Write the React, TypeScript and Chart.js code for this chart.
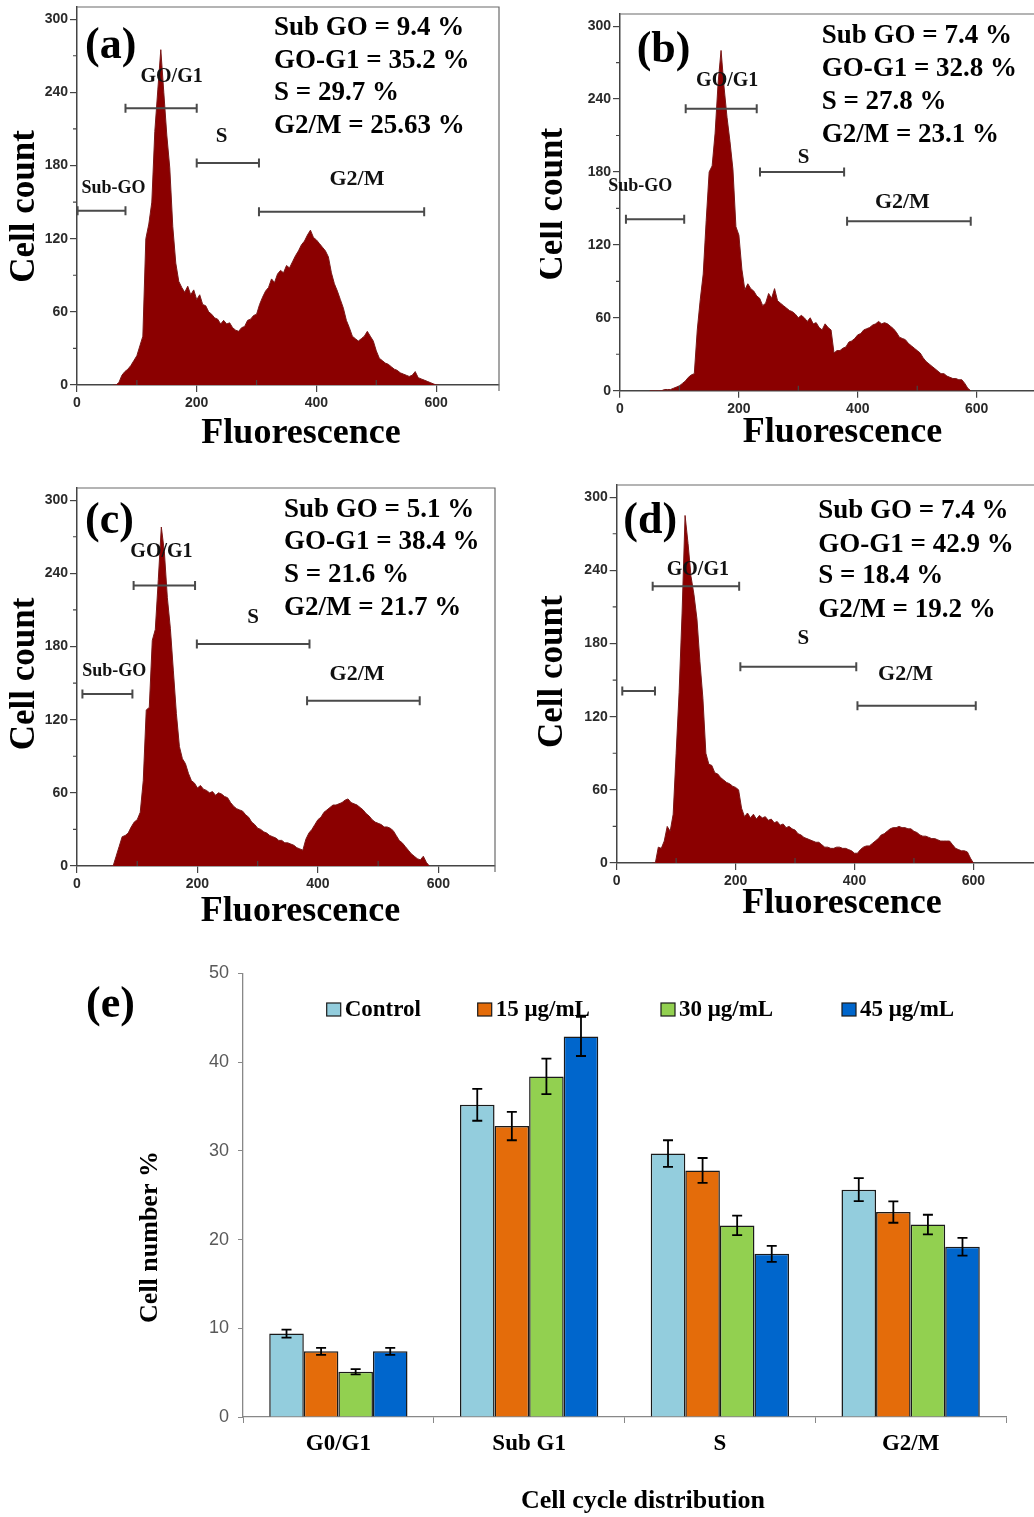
import React, { useEffect, useRef } from 'react';
import { Chart, registerables } from 'chart.js';

Chart.register(...registerables);

// ---------------- DATA ----------------
const BIN_WIDTH = 5;

// Panel (a)
const A_FIRST_BIN = 60;
const A_COUNTS = [
  0, 0, 2, 8, 11, 13, 16, 20, 24, 32,
  40, 120, 132, 150, 208, 242, 275, 240, 205, 178,
  130, 100, 85, 80, 76, 81, 74, 78, 70, 74,
  66, 65, 60, 58, 55, 54, 50, 53, 50, 51,
  47, 45, 44, 47, 48, 53, 54, 57, 58, 66,
  72, 77, 80, 87, 84, 91, 94, 92, 98, 96,
  101, 106, 110, 115, 118, 123, 127, 121, 119, 116,
  113, 110, 105, 92, 83, 77, 70, 63, 53, 47,
  40, 38, 36, 38, 40, 44, 40, 36, 28, 22,
  20, 18, 17, 15, 13, 12, 10, 9, 8, 7,
  8, 11, 6, 5, 4, 3, 2, 1, 0, 0,
];
const A_STATS = ['Sub GO = 9.4 %', 'GO-G1 = 35.2 %', 'S = 29.7 %', 'G2/M = 25.63 %'];
const A_GATES = [[1, 81, 143], [81, 200, 227], [200, 304, 182], [304, 580, 142]];
const A_GATE_LABELS: [string, number, number][] = [['Sub-GO', 61, 161], ['GO/G1', 158, 252.5], ['S', 241.5, 203.4], ['G2/M', 467.7, 169]];

// Panel (b)
const B_FIRST_BIN = 50;
const B_COUNTS = [
  0, 0, 0, 0, 0, 1, 1, 1, 2, 3,
  4, 6, 8, 11, 13, 14, 50, 75, 96, 140,
  180, 185, 212, 253, 280, 250, 225, 205, 182, 135,
  128, 100, 83, 88, 84, 82, 78, 76, 70, 72,
  80, 76, 84, 74, 72, 70, 68, 66, 65, 63,
  60, 62, 60, 57, 60, 55, 56, 52, 50, 55,
  52, 50, 31, 33, 33, 35, 36, 40, 41, 43,
  46, 47, 50, 51, 52, 54, 55, 57, 55, 56,
  55, 53, 51, 48, 44, 43, 42, 39, 37, 35,
  33, 31, 27, 24, 22, 20, 18, 16, 14, 14,
  12, 11, 10, 10, 9, 9, 6, 2, 0,
];
const B_STATS = ['Sub GO = 7.4 %', 'GO-G1 = 32.8 %', 'S = 27.8 %', 'G2/M = 23.1 %'];
const B_GATES = [[10, 108, 141], [110.5, 230, 232], [235.5, 377, 180], [382, 590, 139.5]];
const B_GATE_LABELS: [string, number, number][] = [['Sub-GO', 34, 167.8], ['GO/G1', 180.3, 255], ['S', 308.7, 192.2], ['G2/M', 475, 154.8]];

// Panel (c)
const C_FIRST_BIN = 55;
const C_COUNTS = [
  0, 0, 8, 16, 24, 25, 27, 32, 36, 38,
  44, 70, 128, 130, 185, 194, 235, 278, 258, 220,
  195, 160, 125, 98, 88, 84, 76, 70, 68, 64,
  66, 63, 62, 60, 61, 58, 60, 59, 57, 56,
  52, 49, 47, 46, 45, 42, 40, 36, 34, 31,
  30, 28, 27, 25, 24, 23, 21, 21, 19, 19,
  18, 17, 15, 14, 13, 22, 27, 30, 34, 38,
  40, 44, 46, 48, 50, 50, 51, 52, 54, 55,
  52, 51, 50, 48, 46, 43, 41, 38, 36, 35,
  34, 32, 32, 31, 29, 25, 21, 19, 16, 13,
  10, 8, 6, 5, 8, 3, 0,
];
const C_STATS = ['Sub GO = 5.1 %', 'GO-G1 = 38.4 %', 'S = 21.6 %', 'G2/M = 21.7 %'];
const C_GATES = [[9, 92, 141], [94, 196, 230], [199, 386, 182], [382, 569, 135.5]];
const C_GATE_LABELS: [string, number, number][] = [['Sub-GO', 61.8, 159.7], ['GO/G1', 140.2, 258], ['S', 292.5, 203.4], ['G2/M', 465, 157]];

// Panel (d)
const D_FIRST_BIN = 60;
const D_COUNTS = [
  0, 0, 13, 12, 18, 30, 26, 40, 90, 140,
  205, 285, 262, 235, 220, 200, 165, 135, 90, 81,
  80, 74, 73, 70, 68, 66, 65, 63, 62, 60,
  45, 38, 41, 37, 40, 36, 39, 37, 38, 35,
  36, 33, 34, 31, 32, 29, 30, 28, 27, 24,
  23, 21, 20, 19, 18, 17, 17, 15, 13, 13,
  12, 12, 13, 13, 12, 12, 11, 10, 8, 8,
  11, 13, 14, 14, 16, 18, 20, 23, 24, 26,
  28, 29, 29, 30, 29, 29, 28, 28, 26, 25,
  23, 22, 22, 21, 20, 20, 19, 18, 18, 18,
  18, 15, 12, 11, 10, 10, 9, 4, 0,
];
const D_STATS = ['Sub GO = 7.4 %', 'GO-G1 = 42.9 %', 'S = 18.4 %', 'G2/M = 19.2 %'];
const D_GATES = [[9.4, 64.4, 141], [60.5, 206, 227], [208, 403, 161], [405, 604, 129]];
const D_GATE_LABELS: [string, number, number][] = [['GO/G1', 136.5, 240.8], ['S', 314, 183.8], ['G2/M', 485.9, 154.6]];

// Histogram axes
const HIST_Y_MAX = 310;
const HIST_Y_STEP = 60;
const HIST_X_STEP = 200;
const HIST_X_MINOR = [100, 300, 500];
const HIST_Y_MINOR = [30, 90, 150, 210, 270];

// Panel (e)
const CATEGORIES = ['G0/G1', 'Sub G1', 'S', 'G2/M'];
const SERIES_NAMES = ['Control', '15 μg/mL', '30 μg/mL', '45 μg/mL'];
const CONTROL = [9.4, 35.2, 29.7, 25.63];
const DOSE_15 = [7.4, 32.8, 27.8, 23.1];
const DOSE_30 = [5.1, 38.4, 21.6, 21.7];
const DOSE_45 = [7.4, 42.9, 18.4, 19.2];
const ERR_CONTROL = [0.45, 1.8, 1.5, 1.3];
const ERR_15 = [0.4, 1.6, 1.4, 1.2];
const ERR_30 = [0.3, 2.0, 1.1, 1.1];
const ERR_45 = [0.4, 2.2, 0.9, 1.0];
const Y_TICKS_E = [0, 10, 20, 30, 40, 50];

// ---------------- STYLE / LAYOUT ----------------
const SERIF = '"Liberation Serif", "Times New Roman", serif';
const SANS = '"Liberation Sans", Arial, sans-serif';
const HIST_FILL = '#8B0000';
const BAR_COLORS = ['#93CDDD', '#E46C0A', '#92D050', '#0066CC'];
const GATE_LABEL_SIZE: Record<string, number> = { 'Sub-GO': 18, 'GO/G1': 20, S: 21, 'G2/M': 22 };

type Layout = {
  left: number; top: number; width: number; height: number;
  yWidth: number; xHeight: number; padTop: number; padRight: number; xMax: number;
  tag: [number, number]; statsX: number; statsY: number[];
  yTitle: [number, number]; xTitle: [number, number];
};

const LAYOUT_A: Layout = {
  left: 0, top: -13, width: 510, height: 480, yWidth: 77, xHeight: 82, padTop: 20, padRight: 11, xMax: 705,
  tag: [85, 58], statsX: 274, statsY: [35, 67.5, 100, 132.5], yTitle: [25, 206.5], xTitle: [301, 433.5],
};
const LAYOUT_B: Layout = {
  left: 540, top: -6, width: 510, height: 480, yWidth: 80, xHeight: 83.3, padTop: 20, padRight: 10.9, xMax: 705,
  tag: [636.7, 61.7], statsX: 821.7, statsY: [42.7, 75.7, 108.7, 141.7], yTitle: [553.3, 204.2], xTitle: [842.5, 433],
};
const LAYOUT_C: Layout = {
  left: 0, top: 468, width: 510, height: 480, yWidth: 77, xHeight: 82, padTop: 20, padRight: 15, xMax: 694,
  tag: [85, 533.3], statsX: 284, statsY: [516.7, 549.3, 582.3, 615], yTitle: [25, 674], xTitle: [300.5, 912],
};
const LAYOUT_D: Layout = {
  left: 537, top: 465, width: 510, height: 480, yWidth: 79.7, xHeight: 82, padTop: 20, padRight: 11.2, xMax: 705,
  tag: [623.3, 533.3], statsX: 818.3, statsY: [518.3, 551.7, 583.3, 616.7], yTitle: [553.3, 671.7], xTitle: [842, 903.3],
};

type HistProps = {
  tag: string; firstBin: number; counts: number[]; stats: string[];
  gates: number[][]; gateLabels: [string, number, number][]; layout: Layout;
};

function HistPanel({ tag, firstBin, counts, stats, gates, gateLabels, layout }: HistProps) {
  const ref = useRef<HTMLCanvasElement>(null);
  useEffect(() => {
    const canvas = ref.current;
    if (!canvas) return;
    const L = layout;
    const points = counts.map((c, i) => ({ x: firstBin + i * BIN_WIDTH, y: c }));
    const overlay = {
      id: 'histOverlay',
      afterDatasetsDraw(chart: any) {
        const ctx = chart.ctx as CanvasRenderingContext2D;
        const ca = chart.chartArea;
        const xs = chart.scales.x;
        const ys = chart.scales.y;
        ctx.save();
        // frame (top & right)
        ctx.strokeStyle = '#6a6a6a';
        ctx.lineWidth = 1.2;
        ctx.beginPath();
        ctx.moveTo(ca.left, ca.top);
        ctx.lineTo(ca.right, ca.top);
        ctx.lineTo(ca.right, ca.bottom + 6);
        ctx.stroke();
        // minor ticks
        ctx.strokeStyle = '#444';
        ctx.lineWidth = 1.2;
        ctx.beginPath();
        HIST_X_MINOR.forEach((v) => {
          const px = xs.getPixelForValue(v);
          ctx.moveTo(px, ca.bottom);
          ctx.lineTo(px, ca.bottom - 5);
        });
        HIST_Y_MINOR.forEach((v) => {
          const py = ys.getPixelForValue(v);
          ctx.moveTo(ca.left, py);
          ctx.lineTo(ca.left - 4, py);
        });
        ctx.stroke();
        // gates
        ctx.strokeStyle = '#4a4a4a';
        ctx.lineWidth = 2;
        gates.forEach(([x1, x2, y]) => {
          const p1 = xs.getPixelForValue(x1);
          const p2 = xs.getPixelForValue(x2);
          const py = ys.getPixelForValue(y);
          ctx.beginPath();
          ctx.moveTo(p1, py); ctx.lineTo(p2, py);
          ctx.moveTo(p1, py - 4.5); ctx.lineTo(p1, py + 4.5);
          ctx.moveTo(p2, py - 4.5); ctx.lineTo(p2, py + 4.5);
          ctx.stroke();
        });
        // gate labels
        ctx.fillStyle = '#111';
        ctx.textAlign = 'center';
        ctx.textBaseline = 'middle';
        gateLabels.forEach(([t, x, y]) => {
          ctx.font = `bold ${GATE_LABEL_SIZE[t]}px ${SERIF}`;
          ctx.fillText(t, xs.getPixelForValue(x), ys.getPixelForValue(y));
        });
        // panel texts (page coordinates)
        const ox = L.left;
        const oy = L.top;
        ctx.fillStyle = '#000';
        ctx.textAlign = 'left';
        ctx.textBaseline = 'alphabetic';
        ctx.font = `bold 44px ${SERIF}`;
        ctx.fillText(tag, L.tag[0] - ox, L.tag[1] - oy);
        ctx.font = `bold 27px ${SERIF}`;
        stats.forEach((s, i) => ctx.fillText(s, L.statsX - ox, L.statsY[i] - oy));
        ctx.textAlign = 'center';
        ctx.textBaseline = 'middle';
        ctx.font = `bold 36px ${SERIF}`;
        ctx.fillText('Fluorescence', L.xTitle[0] - ox, L.xTitle[1] - oy);
        ctx.font = `bold 35px ${SERIF}`;
        ctx.translate(L.yTitle[0] - ox, L.yTitle[1] - oy);
        ctx.rotate(-Math.PI / 2);
        ctx.fillText('Cell count', 0, 0);
        ctx.restore();
      },
    };
    const tickFont = { family: SANS, weight: 'bold' as const, size: 14 };
    const chart = new Chart(canvas, {
      type: 'line',
      data: {
        datasets: [{
          data: points,
          fill: 'origin',
          backgroundColor: HIST_FILL,
          borderColor: '#7a1818',
          borderWidth: 1,
          pointRadius: 0,
          tension: 0,
        }],
      },
      options: {
        animation: false,
        responsive: false,
        maintainAspectRatio: false,
        devicePixelRatio: 1,
        events: [],
        layout: { padding: { top: L.padTop, right: L.padRight, left: 0, bottom: 0 } },
        plugins: { legend: { display: false }, tooltip: { enabled: false } },
        scales: {
          x: {
            type: 'linear', min: 0, max: L.xMax,
            ticks: {
              stepSize: HIST_X_STEP, includeBounds: false, autoSkip: false, maxRotation: 0, minRotation: 0, padding: 3,
              color: '#2a2a2a', font: tickFont,
            },
            grid: { drawOnChartArea: false, tickLength: 7, color: '#444', lineWidth: 1.2 },
            border: { color: '#444', width: 1.5 },
            afterFit: (s: any) => { s.height = L.xHeight; },
          },
          y: {
            type: 'linear', min: 0, max: HIST_Y_MAX,
            ticks: {
              stepSize: HIST_Y_STEP, includeBounds: false, autoSkip: false, padding: 2,
              color: '#2a2a2a', font: tickFont,
            },
            grid: { drawOnChartArea: false, tickLength: 7, color: '#444', lineWidth: 1.2 },
            border: { color: '#444', width: 1.5 },
            afterFit: (s: any) => { s.width = L.yWidth; },
          },
        },
      } as any,
      plugins: [overlay],
    });
    return () => chart.destroy();
  }, []);
  return (
    <canvas
      ref={ref}
      width={layout.width}
      height={layout.height}
      style={{ position: 'absolute', left: layout.left, top: layout.top, width: layout.width, height: layout.height }}
    />
  );
}

const BAR_CANVAS = { left: 0, top: 930, width: 1034, height: 587 };
const LEGEND_BOX_X = [326.7, 477.7, 661, 842];

function BarPanel() {
  const ref = useRef<HTMLCanvasElement>(null);
  useEffect(() => {
    const canvas = ref.current;
    if (!canvas) return;
    const values = [CONTROL, DOSE_15, DOSE_30, DOSE_45];
    const errors = [ERR_CONTROL, ERR_15, ERR_30, ERR_45];
    const ox = BAR_CANVAS.left;
    const oy = BAR_CANVAS.top;
    const overlay = {
      id: 'barOverlay',
      afterDatasetsDraw(chart: any) {
        const ctx = chart.ctx as CanvasRenderingContext2D;
        const ys = chart.scales.y;
        ctx.save();
        // error bars
        ctx.strokeStyle = '#000';
        ctx.lineWidth = 1.8;
        chart.data.datasets.forEach((ds: any, i: number) => {
          const meta = chart.getDatasetMeta(i);
          meta.data.forEach((bar: any, j: number) => {
            const v = ds.data[j];
            const e = errors[i][j];
            const yt = ys.getPixelForValue(v + e);
            const yb = ys.getPixelForValue(v - e);
            ctx.beginPath();
            ctx.moveTo(bar.x, yt); ctx.lineTo(bar.x, yb);
            ctx.moveTo(bar.x - 5, yt); ctx.lineTo(bar.x + 5, yt);
            ctx.moveTo(bar.x - 5, yb); ctx.lineTo(bar.x + 5, yb);
            ctx.stroke();
          });
        });
        // legend
        ctx.font = `bold 23px ${SERIF}`;
        ctx.textAlign = 'left';
        ctx.textBaseline = 'alphabetic';
        chart.data.datasets.forEach((ds: any, i: number) => {
          const bx = LEGEND_BOX_X[i] - ox;
          const by = 1003 - oy;
          ctx.fillStyle = ds.backgroundColor;
          ctx.fillRect(bx, by, 14, 13);
          ctx.strokeStyle = '#1a1a1a';
          ctx.lineWidth = 1.2;
          ctx.strokeRect(bx, by, 14, 13);
          ctx.fillStyle = '#000';
          ctx.fillText(ds.label, bx + 18, 1015.7 - oy);
        });
        // panel tag and axis titles
        ctx.fillStyle = '#000';
        ctx.font = `bold 44px ${SERIF}`;
        ctx.fillText('(e)', 86 - ox, 1017 - oy);
        ctx.textAlign = 'center';
        ctx.textBaseline = 'middle';
        ctx.font = `bold 26px ${SERIF}`;
        ctx.fillText('Cell cycle distribution', 643 - ox, 1501.5 - oy);
        ctx.translate(150 - ox, 1237 - oy);
        ctx.rotate(-Math.PI / 2);
        ctx.font = `bold 26px ${SERIF}`;
        ctx.fillText('Cell number %', 0, 0);
        ctx.restore();
      },
    };
    const chart = new Chart(canvas, {
      type: 'bar',
      data: {
        labels: CATEGORIES,
        datasets: values.map((vals, i) => ({
          label: SERIES_NAMES[i],
          data: vals,
          backgroundColor: BAR_COLORS[i],
          borderColor: '#1a1a1a',
          borderWidth: 1.5,
          categoryPercentage: 0.725,
          barPercentage: 1,
        })),
      },
      options: {
        animation: false,
        responsive: false,
        maintainAspectRatio: false,
        devicePixelRatio: 1,
        events: [],
        layout: { padding: { top: 43.5, right: 28, left: 0, bottom: 0 } },
        plugins: { legend: { display: false }, tooltip: { enabled: false } },
        scales: {
          x: {
            ticks: { color: '#000', padding: 7, font: { family: SERIF, weight: 'bold', size: 23 } },
            grid: { display: true, drawOnChartArea: false, offset: true, tickLength: 6, color: '#888' },
            border: { color: '#888', width: 1.3 },
            afterFit: (s: any) => { s.height = 100; },
          },
          y: {
            min: Y_TICKS_E[0],
            max: Y_TICKS_E[Y_TICKS_E.length - 1],
            ticks: { stepSize: Y_TICKS_E[1] - Y_TICKS_E[0], color: '#595959', padding: 9, font: { family: SANS, size: 18 } },
            grid: { drawOnChartArea: false, tickLength: 5, color: '#888' },
            border: { color: '#888', width: 1.3 },
            afterFit: (s: any) => { s.width = 243; },
          },
        },
      } as any,
      plugins: [overlay],
    });
    return () => chart.destroy();
  }, []);
  return (
    <canvas
      ref={ref}
      width={BAR_CANVAS.width}
      height={BAR_CANVAS.height}
      style={{ position: 'absolute', left: BAR_CANVAS.left, top: BAR_CANVAS.top, width: BAR_CANVAS.width, height: BAR_CANVAS.height }}
    />
  );
}

export default function App() {
  return (
    <div style={{ position: 'absolute', left: 0, top: 0, width: 1034, height: 1517, overflow: 'hidden', background: '#fff' }}>
      <HistPanel tag="(a)" firstBin={A_FIRST_BIN} counts={A_COUNTS} stats={A_STATS} gates={A_GATES} gateLabels={A_GATE_LABELS} layout={LAYOUT_A} />
      <HistPanel tag="(b)" firstBin={B_FIRST_BIN} counts={B_COUNTS} stats={B_STATS} gates={B_GATES} gateLabels={B_GATE_LABELS} layout={LAYOUT_B} />
      <HistPanel tag="(c)" firstBin={C_FIRST_BIN} counts={C_COUNTS} stats={C_STATS} gates={C_GATES} gateLabels={C_GATE_LABELS} layout={LAYOUT_C} />
      <HistPanel tag="(d)" firstBin={D_FIRST_BIN} counts={D_COUNTS} stats={D_STATS} gates={D_GATES} gateLabels={D_GATE_LABELS} layout={LAYOUT_D} />
      <BarPanel />
    </div>
  );
}
